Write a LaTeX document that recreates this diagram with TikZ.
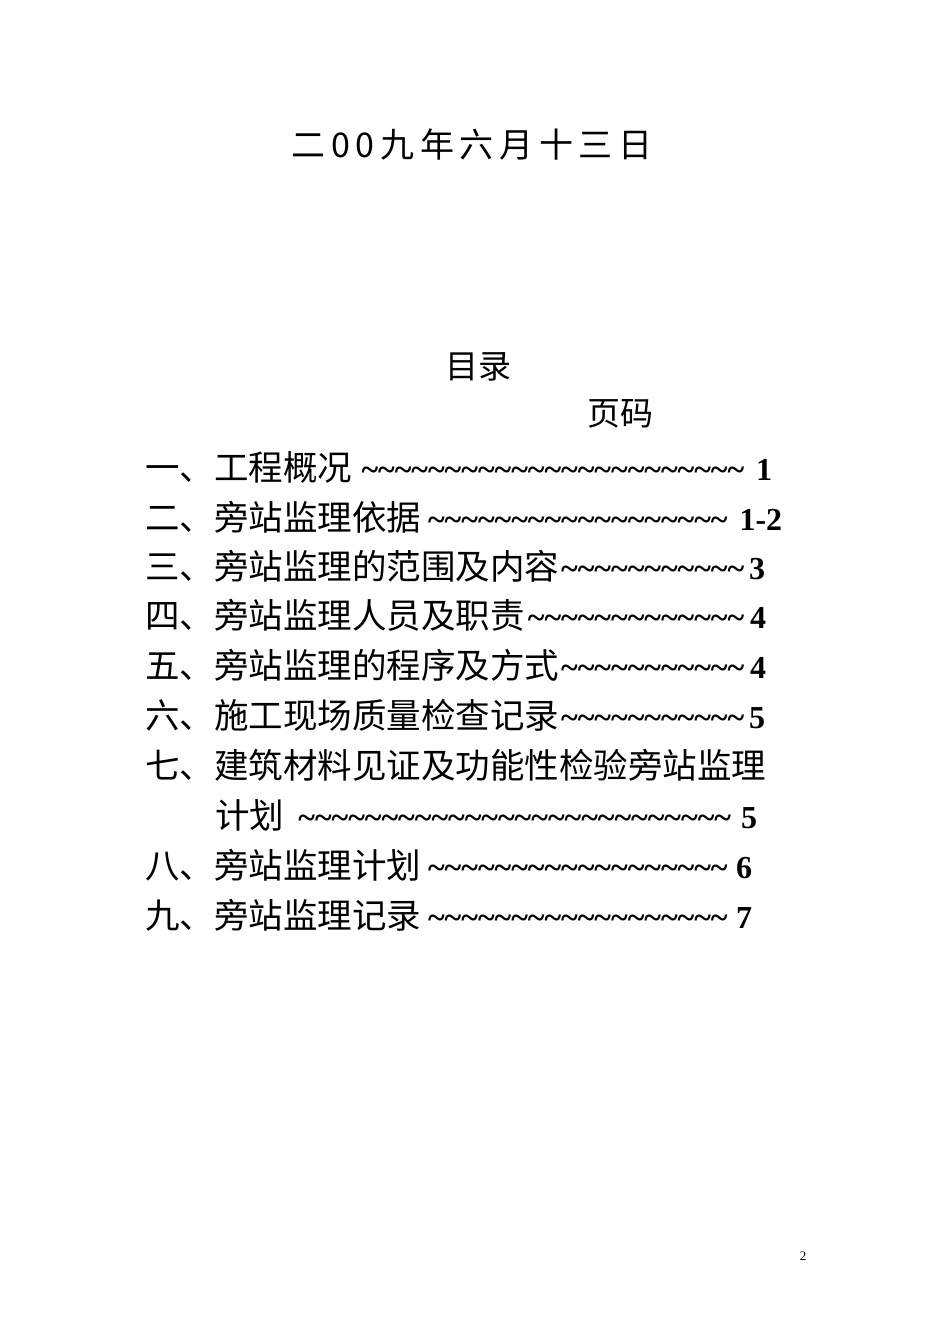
\documentclass[tikz,border=0pt]{standalone}
\usepackage{fontspec}
\setmainfont{Liberation Serif}
\newfontfamily\cjk{Noto Sans CJK SC}
\begin{document}
\begin{tikzpicture}[x=1pt,y=-1pt,
  toc/.style={anchor=west,inner sep=0pt,font=\fontsize{34.5}{36}\selectfont}]
\useasboundingbox (0,0) rectangle (950,1344);
\newcommand\tocline[4]{\node[toc] (#1) at (#2) {\makebox[#3pt][l]{#4}};}
\newcommand\tl{\rmfamily\bfseries\fontsize{32}{34}\selectfont\leaders\hbox{\textasciitilde}\hfill}
\node[font=\cjk\fontsize{34}{36}\selectfont] (date) at (472,145) {二\,0\,0\,九\,年\,六\,月\,十\,三\,日};
\node[font=\cjk\fontsize{33}{35}\selectfont] (mulu) at (478,367) {目录};
\node[font=\cjk\fontsize{33}{35}\selectfont] (yema) at (620,414) {页码};
\tocline{l1}{145,467}{627}{\cjk 一、工程概况\tl 1}
\tocline{l2}{145,517}{637}{\cjk 二、旁站监理依据\tl 1-2}
\tocline{l3}{145,566}{620}{\cjk 三、旁站监理的范围及内容\tl 3}
\tocline{l4}{145,615}{621}{\cjk 四、旁站监理人员及职责\tl 4}
\tocline{l5}{145,665}{621}{\cjk 五、旁站监理的程序及方式\tl 4}
\tocline{l6}{145,715}{620}{\cjk 六、施工现场质量检查记录\tl 5}
\tocline{l7}{145,765}{660}{\cjk 七、建筑材料见证及功能性检验旁站监理}
\tocline{l8}{215,815}{542}{\cjk 计划\tl 5}
\tocline{l9}{145,865}{607}{\cjk 八、旁站监理计划\tl 6}
\tocline{l10}{145,915}{607}{\cjk 九、旁站监理记录\tl 7}
\node[font=\fontsize{13}{14}\selectfont] (pg) at (803,1256) {2};
\end{tikzpicture}
\end{document}
